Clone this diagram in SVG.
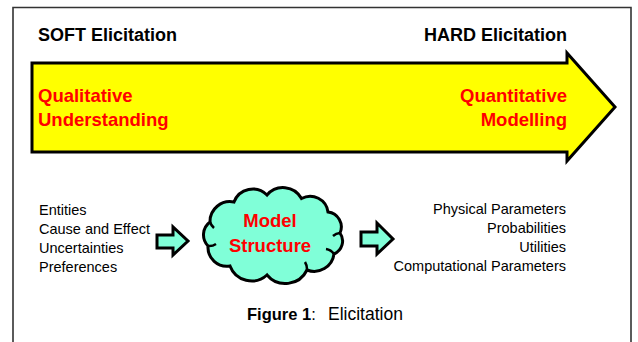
<svg xmlns="http://www.w3.org/2000/svg" width="638" height="342" viewBox="0 0 638 342">
  <style>
    text { font-family: "Liberation Sans", Arial, sans-serif; }
    .head { font-size: 18px; font-weight: bold; fill: #000; }
    .red { font-size: 18.5px; font-weight: bold; fill: #ff0000; }
    .list { font-size: 14.5px; fill: #000; }
    .cap { font-size: 16.5px; fill: #000; }
    .block { stroke: #000; stroke-width: 3; stroke-linejoin: miter; }
    .cyan { fill: #80ffd8; }
  </style>

  <!-- page frame -->
  <rect x="0" y="0" width="638" height="342" fill="#fff"/>
  <path d="M13,352 V7.5 H631 V352" fill="none" stroke="#333" stroke-width="1.6"/>

  <!-- soft-to-hard scale -->
  <g id="scale">
    <text class="head" x="38" y="41">SOFT Elicitation</text>
    <text class="head" x="567" y="41" text-anchor="end">HARD Elicitation</text>
    <polygon class="block" fill="#ffff00" points="32,63 567,63 567,53 615,107 567,161 567,152 32,152"/>
    <text class="red" x="38" y="102">Qualitative</text>
    <text class="red" x="38" y="126">Understanding</text>
    <text class="red" x="567" y="102" text-anchor="end">Quantitative</text>
    <text class="red" x="567" y="126" text-anchor="end">Modelling</text>
  </g>

  <!-- soft inputs -->
  <g id="inputs">
    <text class="list" x="39" y="215">Entities</text>
    <text class="list" x="39" y="234">Cause and Effect</text>
    <text class="list" x="39" y="253">Uncertainties</text>
    <text class="list" x="39" y="272">Preferences</text>
  </g>

  <!-- model structure cloud -->
  <g id="model-structure">
    <path class="block cyan" d="M208,246
      A16,16 0 0 1 210,222
      A20,20 0 0 1 234,202
      A20,20 0 0 1 267,195
      A21,21 0 0 1 301.5,198.5
      A18,18 0 0 1 328,212
      A15,15 0 0 1 340,233
      A14,14 0 0 1 334,254
      A20,20 0 0 1 307,270
      A24,24 0 0 1 267,275
      A23,23 0 0 1 230,266
      A19,19 0 0 1 208,246 Z"/>
    <!-- inner creases of the cloud lobes -->
    <path d="M208,246 A12,12 0 0 0 216,244 M210,222 A14,14 0 0 0 214,228 M334,254 A12,12 0 0 0 326,249 M340,233 A12,12 0 0 0 333,236 M307,270 A14,14 0 0 0 305,262" fill="none" stroke="#000" stroke-width="2.5"/>
    <text class="red" x="270" y="227" text-anchor="middle">Model</text>
    <text class="red" x="270" y="252" text-anchor="middle">Structure</text>
  </g>

  <!-- hard outputs -->
  <g id="outputs">
    <text class="list" x="566" y="214" text-anchor="end">Physical Parameters</text>
    <text class="list" x="566" y="233" text-anchor="end">Probabilities</text>
    <text class="list" x="566" y="252" text-anchor="end">Utilities</text>
    <text class="list" x="566" y="271" text-anchor="end">Computational Parameters</text>
  </g>

  <!-- block-arrow connectors -->
  <g id="connectors">
    <polygon class="block cyan" points="157,235 173,235 173,227 188,241 173,255 173,248 157,248"/>
    <polygon class="block cyan" points="361,232 377,232 377,223 393,239 377,254 377,246 361,246"/>
  </g>

  <!-- caption -->
  <g id="caption">
    <text class="cap" x="247" y="320"><tspan font-weight="bold">Figure 1</tspan>:<tspan x="328" font-size="17.5px">Elicitation</tspan></text>
  </g>
</svg>
